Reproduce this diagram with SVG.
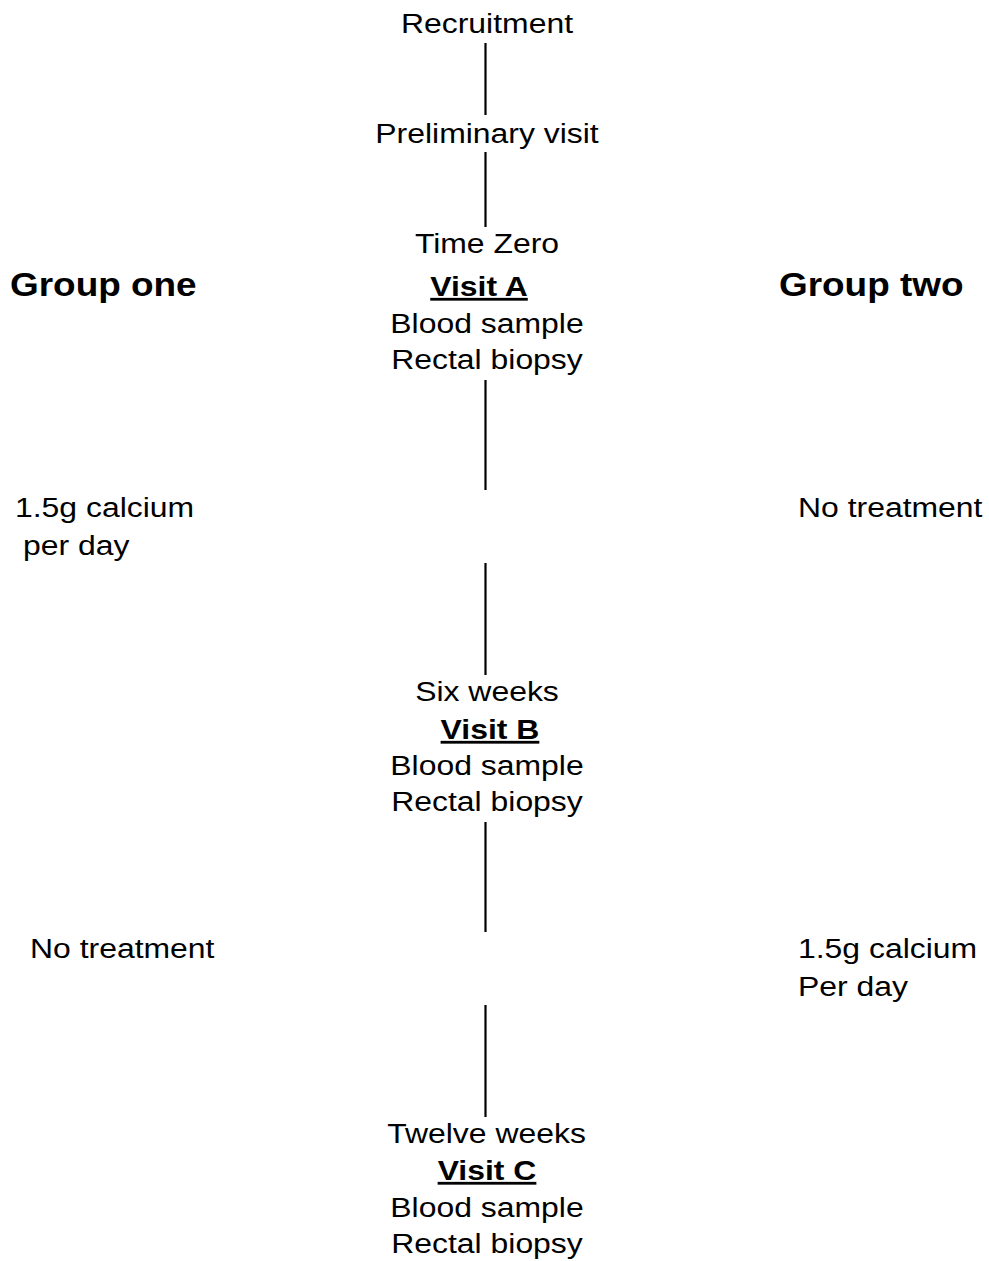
<svg xmlns="http://www.w3.org/2000/svg" width="989" height="1261" viewBox="0 0 989 1261">
<style>
text{font-family:"Liberation Sans",Arial,sans-serif;font-size:28px;fill:#000}
.c{text-anchor:middle}
.b{font-weight:bold}
.u{text-decoration:underline}
.g{font-size:32.4px;font-weight:bold}
line{stroke:#000;stroke-width:2.2}
</style>
<rect width="989" height="1261" fill="#fff"/>
<g id="connectors">
<line x1="485.5" y1="43" x2="485.5" y2="115"/>
<line x1="485.5" y1="152" x2="485.5" y2="227"/>
<line x1="485.5" y1="380" x2="485.5" y2="490"/>
<line x1="485.5" y1="563" x2="485.5" y2="675"/>
<line x1="485.5" y1="822" x2="485.5" y2="932"/>
<line x1="485.5" y1="1005" x2="485.5" y2="1117"/>
</g>
<g transform="scale(1.14,1)">
<g id="recruitment"><text class="c" x="427.2" y="33">Recruitment</text></g>
<g id="preliminary"><text class="c" x="427.2" y="143">Preliminary visit</text></g>
<g id="visitA">
<text class="c" x="427.2" y="253">Time Zero</text>
<text class="c b u" x="420.2" y="296">Visit A</text>
<text class="c" x="427.2" y="333">Blood sample</text>
<text class="c" x="427.2" y="369">Rectal biopsy</text>
</g>
<g id="group-one"><text class="g" x="8.77" y="296">Group one</text></g>
<g id="group-two"><text class="g" x="683.3" y="296">Group two</text></g>
<g id="g1-phase1">
<text x="13.16" y="517">1.5g calcium</text>
<text x="20.18" y="555">per day</text>
</g>
<g id="g2-phase1"><text x="700" y="517">No treatment</text></g>
<g id="visitB">
<text class="c" x="427.2" y="701">Six weeks</text>
<text class="c b u" x="429.8" y="739">Visit B</text>
<text class="c" x="427.2" y="775">Blood sample</text>
<text class="c" x="427.2" y="811">Rectal biopsy</text>
</g>
<g id="g1-phase2"><text x="26.32" y="958">No treatment</text></g>
<g id="g2-phase2">
<text x="700" y="958">1.5g calcium</text>
<text x="700" y="996">Per day</text>
</g>
<g id="visitC">
<text class="c" x="426.8" y="1143">Twelve weeks</text>
<text class="c b u" x="427.2" y="1180">Visit C</text>
<text class="c" x="427.2" y="1217">Blood sample</text>
<text class="c" x="427.2" y="1253">Rectal biopsy</text>
</g>
</g>
</svg>
